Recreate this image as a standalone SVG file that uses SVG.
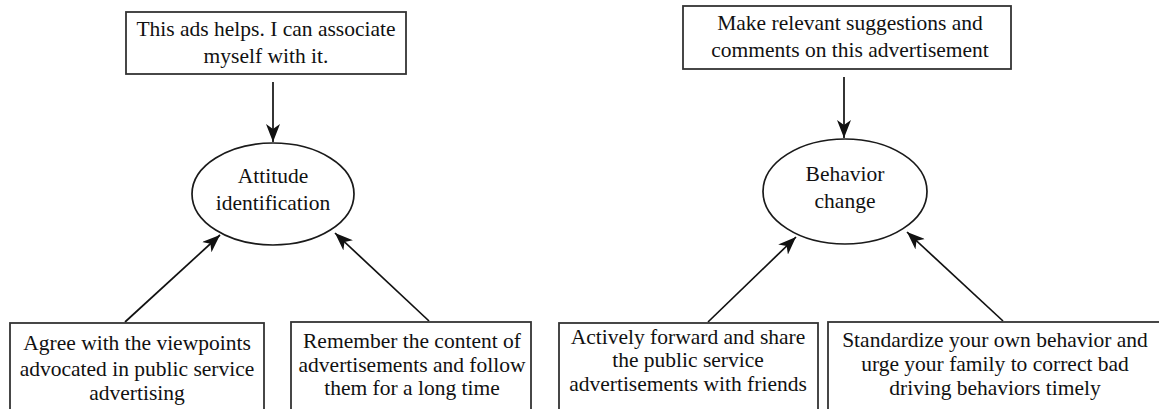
<svg xmlns="http://www.w3.org/2000/svg" width="1159" height="409" viewBox="0 0 1159 409">
<style>
.box{fill:#fff;stroke:#333;stroke-width:1.8}
.ell{fill:#fff;stroke:#1a1a1a;stroke-width:1.7}
text{font-family:'Liberation Serif','Times New Roman',Times,serif;font-size:21.5px;fill:#111;text-anchor:middle}
.c{stroke:#111;stroke-width:1.7;fill:none}
</style>
<defs>
<marker id="ah" viewBox="0 0 18 14" refX="18" refY="7" markerWidth="18" markerHeight="14" markerUnits="userSpaceOnUse" orient="auto">
<path d="M0,0 L18,7 L0,14 L5,7 z" fill="#111"/>
</marker>
</defs>
<rect width="1159" height="409" fill="#fff"/>
<g id="connectors">
<line class="c" x1="273" y1="82" x2="273" y2="142" marker-end="url(#ah)"/>
<line class="c" x1="125" y1="322" x2="220" y2="235" marker-end="url(#ah)"/>
<line class="c" x1="429" y1="321" x2="335" y2="233" marker-end="url(#ah)"/>
<line class="c" x1="844" y1="77" x2="844" y2="138" marker-end="url(#ah)"/>
<line class="c" x1="708" y1="322" x2="796" y2="237" marker-end="url(#ah)"/>
<line class="c" x1="1003" y1="321" x2="907" y2="232" marker-end="url(#ah)"/>
</g>
<g id="n-top-left">
<rect class="box" x="126" y="12" width="280" height="62"/>
<text x="266" y="36">This ads helps. I can associate</text>
<text x="266" y="63">myself with it.</text>
</g>
<g id="n-attitude">
<ellipse class="ell" cx="273" cy="194" rx="81" ry="51"/>
<text x="273" y="183">Attitude</text>
<text x="273" y="210">identification</text>
</g>
<g id="n-agree">
<rect class="box" x="10" y="323" width="254" height="100"/>
<text x="137" y="350">Agree with the viewpoints</text>
<text x="137" y="376">advocated in public service</text>
<text x="137" y="400">advertising</text>
</g>
<g id="n-remember">
<rect class="box" x="291" y="322" width="240" height="100"/>
<text x="412" y="348">Remember the content of</text>
<text x="412" y="372">advertisements and follow</text>
<text x="412" y="395">them for a long time</text>
</g>
<g id="n-top-right">
<rect class="box" x="683" y="6" width="328" height="63"/>
<text x="850" y="30">Make relevant suggestions and</text>
<text x="850" y="57">comments on this advertisement</text>
</g>
<g id="n-behavior">
<ellipse class="ell" cx="845" cy="191.5" rx="82" ry="52.5"/>
<text x="845" y="181">Behavior</text>
<text x="845" y="208">change</text>
</g>
<g id="n-forward">
<rect class="box" x="559" y="323" width="259" height="100"/>
<text x="688" y="344">Actively forward and share</text>
<text x="688" y="367">the public service</text>
<text x="688" y="391">advertisements with friends</text>
</g>
<g id="n-standardize">
<rect class="box" x="828" y="322" width="340" height="100"/>
<text x="995" y="347">Standardize your own behavior and</text>
<text x="995" y="371">urge your family to correct bad</text>
<text x="995" y="395">driving behaviors timely</text>
</g>
</svg>
